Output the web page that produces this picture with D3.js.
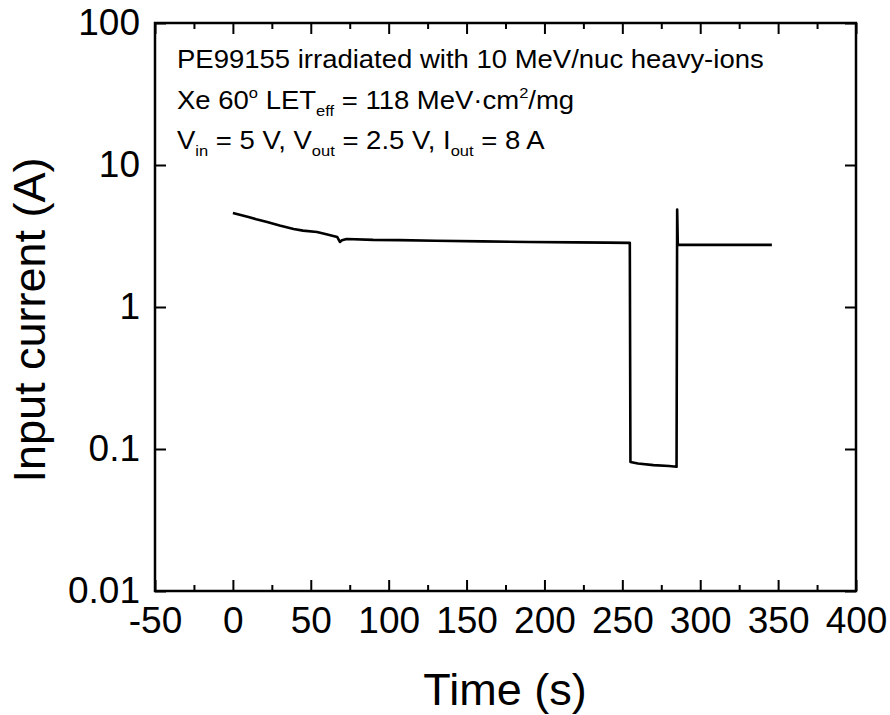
<!DOCTYPE html>
<html>
<head>
<meta charset="utf-8">
<script src="https://cdn.jsdelivr.net/npm/d3@7"></script>
<style>
  body { margin: 0; background: #fff; }
  text { font-family: "Liberation Sans", Arial, sans-serif; fill: #000; }
</style>
</head>
<body>
<div id="chart"></div>
<script>
// values
const time = [0, 5, 10, 15, 22, 30, 39, 45, 54, 60, 67, 68.7, 70, 73, 90, 107, 130, 160, 190, 220, 240, 254.8,
              255.2, 260, 270, 280, 284.8, 285.2, 285.6, 286, 300, 320, 346];
const current = [4.6, 4.45, 4.3, 4.15, 3.97, 3.75, 3.54, 3.45, 3.37, 3.25, 3.11, 2.87, 2.95, 3.01, 2.97, 2.96, 2.93, 2.9, 2.87, 2.85, 2.84, 2.83,
                 0.081, 0.079, 0.077, 0.076, 0.075, 4.85, 2.8, 2.74, 2.74, 2.74, 2.74];
const xTicks = [-50, 0, 50, 100, 150, 200, 250, 300, 350, 400];
const yTicks = [0.01, 0.1, 1, 10, 100];
const yTickLabels = ["0.01", "0.1", "1", "10", "100"];

const width = 890, height = 715;
const margin = { left: 155, right: 34, top: 23, bottom: 124 };

const svg = d3.select("#chart").append("svg")
    .attr("width", width)
    .attr("height", height);

const x = d3.scaleLinear().domain([-50, 400]).range([margin.left, width - margin.right]);
const y = d3.scaleLog().domain([0.01, 100]).range([height - margin.bottom, margin.top]);

const minorX = d3.range(-25, 400, 50);

// axes (ticks point inward, mirrored on top/right)
const bottom = svg.append("g").attr("transform", `translate(0,${y(0.01)})`)
    .call(d3.axisBottom(x).tickValues(xTicks).tickSizeInner(-11).tickSizeOuter(0).tickPadding(16).tickFormat(d => String(d)));
svg.append("g").attr("transform", `translate(0,${y(0.01)})`)
    .call(d3.axisBottom(x).tickValues(minorX).tickSizeInner(-6).tickSizeOuter(0).tickFormat(""));
svg.append("g").attr("transform", `translate(0,${y(100)})`)
    .call(d3.axisTop(x).tickValues(xTicks).tickSizeInner(-11).tickSizeOuter(0).tickFormat(""));
svg.append("g").attr("transform", `translate(0,${y(100)})`)
    .call(d3.axisTop(x).tickValues(minorX).tickSizeInner(-6).tickSizeOuter(0).tickFormat(""));
const left = svg.append("g").attr("transform", `translate(${x(-50)},0)`)
    .call(d3.axisLeft(y).tickValues(yTicks).tickSizeInner(-11).tickSizeOuter(0).tickPadding(15)
        .tickFormat((d, i) => yTickLabels[i]));
svg.append("g").attr("transform", `translate(${x(400)},0)`)
    .call(d3.axisRight(y).tickValues(yTicks).tickSizeInner(-11).tickSizeOuter(0).tickFormat(""));

svg.selectAll(".domain").remove();
svg.selectAll(".tick line").attr("stroke", "#000").attr("stroke-width", 2);
bottom.selectAll("text").attr("font-size", 37).attr("font-family", "Liberation Sans, Arial, sans-serif");
left.selectAll("text").attr("font-size", 37).attr("font-family", "Liberation Sans, Arial, sans-serif").attr("dy", "0.32em");

// frame
svg.append("rect")
    .attr("x", x(-50)).attr("y", y(100))
    .attr("width", x(400) - x(-50)).attr("height", y(0.01) - y(100))
    .attr("fill", "none").attr("stroke", "#000").attr("stroke-width", 2.5);

// trace
const pts = time.map((t, i) => [t, current[i]]);
svg.append("path")
    .datum(pts)
    .attr("fill", "none")
    .attr("stroke", "#000")
    .attr("stroke-width", 2.6)
    .attr("stroke-linejoin", "round")
    .attr("d", d3.line().x(d => x(d[0])).y(d => y(d[1])));

// axis titles
svg.append("text")
    .attr("x", 505).attr("y", 705)
    .attr("text-anchor", "middle").attr("font-size", 45)
    .text("Time (s)");
svg.append("text")
    .attr("transform", `translate(45,320) rotate(-90)`)
    .attr("text-anchor", "middle").attr("font-size", 45)
    .text("Input current (A)");

// annotation (slightly wide lettering in the original)
const note = svg.append("g").attr("font-size", 25)
    .attr("transform", "translate(177,0) scale(1.1,1)");
note.append("text").attr("x", 0).attr("y", 68)
    .text("PE99155 irradiated with 10 MeV/nuc heavy-ions");

const l2 = note.append("text").attr("x", 0).attr("y", 109);
l2.append("tspan").text("Xe 60");
l2.append("tspan").attr("font-size", 15).attr("dy", -11).text("o");
l2.append("tspan").attr("dy", 11).text(" LET");
l2.append("tspan").attr("font-size", 15).attr("dy", 7).text("eff");
l2.append("tspan").attr("dy", -7).text(" = 118 MeV\u00b7cm");
l2.append("tspan").attr("font-size", 15).attr("dy", -11).text("2");
l2.append("tspan").attr("dy", 11).text("/mg");

const l3 = note.append("text").attr("x", 0).attr("y", 149);
l3.append("tspan").text("V");
l3.append("tspan").attr("font-size", 15).attr("dy", 7).text("in");
l3.append("tspan").attr("dy", -7).text(" = 5 V, V");
l3.append("tspan").attr("font-size", 15).attr("dy", 7).text("out");
l3.append("tspan").attr("dy", -7).text(" = 2.5 V, I");
l3.append("tspan").attr("font-size", 15).attr("dy", 7).text("out");
l3.append("tspan").attr("dy", -7).text(" = 8 A");
</script>
</body>
</html>
